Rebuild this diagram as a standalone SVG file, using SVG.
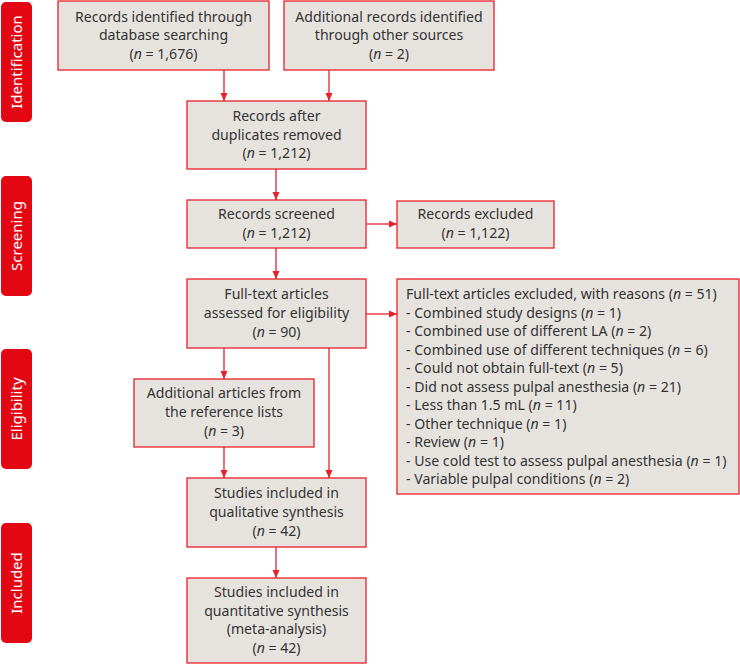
<svg xmlns="http://www.w3.org/2000/svg" width="740" height="664" viewBox="0 0 740 664">
<style>
.box{fill:#e6e3df;stroke:#e8202a;stroke-width:1.3}
.side{fill:#e30613}
.t{font-family:"Noto Sans","Liberation Sans",sans-serif;font-size:14.1px;fill:#333;text-anchor:middle}
.l{font-family:"Noto Sans","Liberation Sans",sans-serif;font-size:14.1px;fill:#333}
.s{font-family:"Noto Sans","Liberation Sans",sans-serif;font-size:15px;fill:#fff;text-anchor:middle}
.i{font-style:italic}
.c{stroke:#e8202a;stroke-width:1.3;fill:none}
</style>
<defs>
<marker id="ah" viewBox="0 0 8 8" refX="8" refY="4" markerWidth="8" markerHeight="8" markerUnits="userSpaceOnUse" orient="auto">
<path d="M0,0.5 L8,4 L0,7.5 z" fill="#e8202a"/>
</marker>
</defs>
<g id="phases">
<g id="ph-identification"><rect class="side" x="1" y="2" width="31" height="120" rx="5"/><text class="s" transform="translate(22,62) rotate(-90)">Identification</text></g>
<g id="ph-screening"><rect class="side" x="1" y="176" width="31" height="120" rx="5"/><text class="s" transform="translate(22,236) rotate(-90)">Screening</text></g>
<g id="ph-eligibility"><rect class="side" x="1" y="349" width="31" height="120" rx="5"/><text class="s" transform="translate(22,409) rotate(-90)">Eligibility</text></g>
<g id="ph-included"><rect class="side" x="1" y="523" width="31" height="120" rx="5"/><text class="s" transform="translate(22,583) rotate(-90)">Included</text></g>
</g>
<g id="connectors">
<line class="c" x1="224" y1="70" x2="224" y2="101" marker-end="url(#ah)"/>
<line class="c" x1="329" y1="70" x2="329" y2="101" marker-end="url(#ah)"/>
<line class="c" x1="276" y1="169" x2="276" y2="200" marker-end="url(#ah)"/>
<line class="c" x1="366" y1="224" x2="397" y2="224" marker-end="url(#ah)"/>
<line class="c" x1="276" y1="248" x2="276" y2="279" marker-end="url(#ah)"/>
<line class="c" x1="366" y1="314" x2="397" y2="314" marker-end="url(#ah)"/>
<line class="c" x1="224" y1="348" x2="224" y2="379" marker-end="url(#ah)"/>
<line class="c" x1="329" y1="348" x2="329" y2="478" marker-end="url(#ah)"/>
<line class="c" x1="224" y1="447" x2="224" y2="478" marker-end="url(#ah)"/>
<line class="c" x1="276" y1="547" x2="276" y2="578" marker-end="url(#ah)"/>
</g>
<g id="n-db"><rect class="box" x="58" y="1" width="211" height="69"/><text class="t" x="163.5" y="21.5">Records identified through</text><text class="t" x="163.5" y="40">database searching</text><text class="t" x="163.5" y="59">(<tspan class="i">n</tspan> = 1,676)</text></g>
<g id="n-other"><rect class="box" x="284" y="1" width="210" height="69"/><text class="t" x="389" y="21.5">Additional records identified</text><text class="t" x="389" y="40">through other sources</text><text class="t" x="389" y="59">(<tspan class="i">n</tspan> = 2)</text></g>
<g id="n-dup"><rect class="box" x="187" y="101" width="179" height="68"/><text class="t" x="276.5" y="121">Records after</text><text class="t" x="276.5" y="139.5">duplicates removed</text><text class="t" x="276.5" y="158">(<tspan class="i">n</tspan> = 1,212)</text></g>
<g id="n-screened"><rect class="box" x="187" y="200" width="179" height="48"/><text class="t" x="276.5" y="219">Records screened</text><text class="t" x="276.5" y="238">(<tspan class="i">n</tspan> = 1,212)</text></g>
<g id="n-excluded"><rect class="box" x="397" y="201" width="157" height="47"/><text class="t" x="475.5" y="219">Records excluded</text><text class="t" x="475.5" y="238">(<tspan class="i">n</tspan> = 1,122)</text></g>
<g id="n-fulltext"><rect class="box" x="187" y="279" width="179" height="69"/><text class="t" x="276.5" y="299">Full-text articles</text><text class="t" x="276.5" y="318">assessed for eligibility</text><text class="t" x="276.5" y="337">(<tspan class="i">n</tspan> = 90)</text></g>
<g id="n-ftexcluded"><rect class="box" x="397" y="279" width="342" height="215"/>
<text class="l" x="406" y="299">Full-text articles excluded, with reasons (<tspan class="i">n</tspan> = 51)</text>
<text class="l" x="406" y="317.5">- Combined study designs (<tspan class="i">n</tspan> = 1)</text>
<text class="l" x="406" y="336">- Combined use of different LA (<tspan class="i">n</tspan> = 2)</text>
<text class="l" x="406" y="354.5">- Combined use of different techniques (<tspan class="i">n</tspan> = 6)</text>
<text class="l" x="406" y="373">- Could not obtain full-text (<tspan class="i">n</tspan> = 5)</text>
<text class="l" x="406" y="391.5">- Did not assess pulpal anesthesia (<tspan class="i">n</tspan> = 21)</text>
<text class="l" x="406" y="410">- Less than 1.5 mL (<tspan class="i">n</tspan> = 11)</text>
<text class="l" x="406" y="428.5">- Other technique (<tspan class="i">n</tspan> = 1)</text>
<text class="l" x="406" y="447">- Review (<tspan class="i">n</tspan> = 1)</text>
<text class="l" x="406" y="465.5">- Use cold test to assess pulpal anesthesia (<tspan class="i">n</tspan> = 1)</text>
<text class="l" x="406" y="484">- Variable pulpal conditions (<tspan class="i">n</tspan> = 2)</text>
</g>
<g id="n-additional"><rect class="box" x="134" y="379" width="180" height="68"/><text class="t" x="224" y="398">Additional articles from</text><text class="t" x="224" y="417">the reference lists</text><text class="t" x="224" y="436">(<tspan class="i">n</tspan> = 3)</text></g>
<g id="n-qual"><rect class="box" x="187" y="478" width="179" height="69"/><text class="t" x="276.5" y="498">Studies included in</text><text class="t" x="276.5" y="517">qualitative synthesis</text><text class="t" x="276.5" y="536">(<tspan class="i">n</tspan> = 42)</text></g>
<g id="n-quant"><rect class="box" x="187" y="578" width="179" height="85"/><text class="t" x="276.5" y="597">Studies included in</text><text class="t" x="276.5" y="615.5">quantitative synthesis</text><text class="t" x="276.5" y="634">(meta-analysis)</text><text class="t" x="276.5" y="653">(<tspan class="i">n</tspan> = 42)</text></g>
</svg>
